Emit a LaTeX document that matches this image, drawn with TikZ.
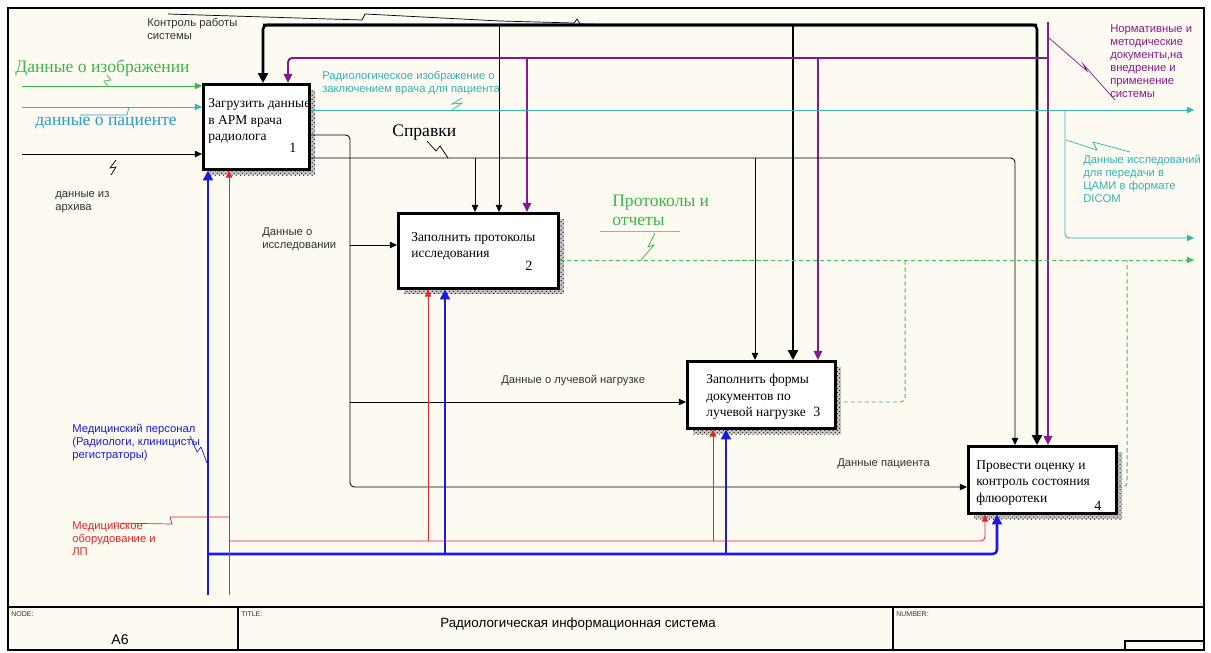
\documentclass[tikz,border=0pt]{standalone}
\usepackage{fontspec}
\setmainfont{Liberation Serif}
\setsansfont{Liberation Sans}
\usetikzlibrary{arrows.meta,patterns}
\definecolor{RIPaper}{HTML}{FCFAF1}
\definecolor{RIGreen}{HTML}{3DB54A}
\definecolor{RIDash}{HTML}{45C055}
\definecolor{RITeal}{HTML}{36B3B3}
\definecolor{RISky}{HTML}{2A9BD0}
\definecolor{RIPurple}{HTML}{86198F}
\definecolor{RIBlue}{HTML}{1A1AE6}
\definecolor{RIRed}{HTML}{E82424}
\definecolor{RIText}{HTML}{333333}

\begin{document}
\begin{tikzpicture}[x=0.025cm,y=-0.025cm,
  fbox/.style={draw,line width=1.8pt,fill=white,anchor=north west,inner sep=0pt},
  boxtext/.style={font=\fontsize{9.6}{11.6}\selectfont,align=left,anchor=west,inner sep=0pt},
  boxnum/.style={font=\fontsize{10}{12}\selectfont,inner sep=0pt},
  lbl/.style={font=\sffamily\fontsize{8}{9.3}\selectfont,align=left,anchor=north west,inner sep=0pt,text=RIText},
  biglbl/.style={font=\fontsize{12.5}{13.5}\selectfont,align=left,anchor=north west,inner sep=0pt},
  frametext/.style={font=\sffamily\fontsize{5}{6}\selectfont,anchor=north west,inner sep=0pt,text=RIText},
  shdbase/.style={fill=black!22},
  shd/.style={pattern=crosshatch dots,pattern color=black!85},
  wire/.style={line width=0.6pt},
  heavy/.style={line width=1.8pt},
  violetline/.style={line width=1.4pt,RIPurple},
  dashline/.style={line width=0.7pt,RIDash,dash pattern=on 3pt off 2pt},
  zz/.style={line width=0.5pt},
  flow/.style={-{Triangle[length=5pt,width=4.5pt]}},
  bigflow/.style={-{Triangle[length=7pt,width=7pt]}},
  midflow/.style={-{Triangle[length=6.5pt,width=6pt]}}]
\path[use as bounding box] (0,0) rectangle (1211,652);
\fill[white] (0,0) rectangle (1211,652);
\fill[RIPaper] (8,8) rectangle (1204,650);
\draw[line width=0.8pt] (8,8) rectangle (1204,650);
\draw[line width=0.8pt] (8,607) -- (1204,607);
\draw[line width=0.8pt] (238,607) -- (238,650);
\draw[line width=0.8pt] (893,607) -- (893,650);
\draw[line width=0.8pt] (1125,641) rectangle (1204,650);
\node[frametext] (fnode) at (11,611) {NODE:};
\node[font=\sffamily\fontsize{10}{12}\selectfont,inner sep=0pt] (fa6) at (120,640) {A6};
\node[frametext] (ftitle) at (241,611) {TITLE:};
\node[font=\sffamily\fontsize{9.5}{11}\selectfont,inner sep=0pt] (fname) at (578,624) {Радиологическая информационная система};
\node[frametext] (fnumber) at (896,611) {NUMBER:};
\fill[shdbase] (209,90) rectangle (315,175);
\fill[shdbase] (404,219) rectangle (564,294);
\fill[shdbase] (693,367) rectangle (841,434);
\fill[shdbase] (974,452) rectangle (1122,519);
\fill[shd] (209,90) rectangle (315,175);
\fill[shd] (404,219) rectangle (564,294);
\fill[shd] (693,367) rectangle (841,434);
\fill[shd] (974,452) rectangle (1122,519);
\node[fbox,minimum width=2.65cm,minimum height=2.125cm] (b1) at (202,83) {};
\node[fbox,minimum width=4.0cm,minimum height=1.875cm] (b2) at (397,212) {};
\node[fbox,minimum width=3.7cm,minimum height=1.675cm] (b3) at (686,360) {};
\node[fbox,minimum width=3.7cm,minimum height=1.675cm] (b4) at (967,445) {};
\node[boxtext] (b1t) at (208,121) {Загрузить данные\\в АРМ врача\\радиолога};
\node[boxnum] (b1n) at (293,148) {1};
\node[boxtext] (b2t) at (411,246) {Заполнить протоколы\\исследования};
\node[boxnum] (b2n) at (529,266) {2};
\node[boxtext] (b3t) at (706,397) {Заполнить формы\\документов по\\лучевой нагрузке};
\node[boxnum] (b3n) at (817,412) {3};
\node[boxtext] (b4t) at (976,483) {Провести оценку и\\контроль состояния\\флюоротеки};
\node[boxnum] (b4n) at (1098,506) {4};
\coordinate (iimg) at (22,86);
\coordinate (ipat) at (22,107);
\coordinate (iarch) at (22,154);
\draw[wire,flow,RIGreen] (iimg) -- (iimg -| b1.west);
\draw[wire,flow,RITeal] (ipat) -- (ipat -| b1.west);
\draw[wire,flow] (iarch) -- (iarch -| b1.west);
\coordinate (kA) at (263,25);
\coordinate (kB) at (1037,25);
\coordinate (kC) at (793,25);
\coordinate (kD) at (499,25);
\draw[heavy,bigflow,rounded corners=3pt] (kB) -- (kA) -- (kA |- b1.north);
\draw[heavy,bigflow,rounded corners=3pt] (kA) -- (kB) -- (kB |- b4.north);
\draw[heavy,bigflow] (kC) -- (kC |- b3.north);
\draw[wire,flow] (kD) -- (kD |- b2.north);
\draw[zz] (168,14) -- (362,20) -- (365,14) -- (500,21) -- (574,23) -- (577,19) -- (580,24) -- (620,25);
\coordinate (nA) at (1048,22);
\coordinate (nB) at (1048,58);
\coordinate (nC) at (288,58);
\coordinate (nD) at (527,58);
\coordinate (nE) at (818,58);
\draw[violetline,midflow] (nA) -- (nA |- b4.north);
\draw[violetline,midflow,rounded corners=3pt] (nB) -- (nC) -- (nC |- b1.north);
\draw[violetline,midflow] (nD) -- (nD |- b2.north);
\draw[violetline,midflow] (nE) -- (nE |- b3.north);
\draw[zz,RIPurple] (1049,38) -- (1087,71) -- (1083,64) -- (1115,100);
\coordinate (oR) at (1194,110);
\coordinate (oS) at (1065,110);
\coordinate (oT) at (1194,238);
\draw[wire,flow,RITeal] (oR -| b1.east) -- (oR);
\draw[wire,flow,RITeal,rounded corners=3pt] (oS) -- (oS |- oT) -- (oT);
\draw[zz,RITeal] (462,98) -- (452,104) -- (462,103) -- (452,110);
\draw[zz,RITeal] (1066,140) -- (1097,150) -- (1093,142) -- (1130,152);
\coordinate (dA) at (350,135);
\coordinate (dB) at (350,487);
\coordinate (dC) at (350,245);
\coordinate (dD) at (350,402);
\draw[wire,flow,rounded corners=3pt] (dA -| b1.east) -- (dA) -- (dB) -- (dB -| b4.west);
\draw[wire,flow] (dC) -- (dC -| b2.west);
\draw[wire,flow] (dD) -- (dD -| b3.west);
\coordinate (sA) at (1015,158);
\coordinate (sB) at (475,158);
\coordinate (sC) at (755,158);
\draw[wire,flow,rounded corners=3pt] (sA -| b1.east) -- (sA) -- (sA |- b4.north);
\draw[wire,flow] (sB) -- (sB |- b2.north);
\draw[wire,flow] (sC) -- (sC |- b3.north);
\draw[zz] (427,141) -- (436,151) -- (440,146) -- (448,158);
\coordinate (gA) at (1194,260);
\coordinate (gB) at (905,402);
\coordinate (gC) at (1127,487);
\draw[dashline,flow] (gA -| b2.east) -- (gA);
\draw[dashline,rounded corners=3pt] (gB -| b3.east) -- (gB) -- (gB |- gA);
\draw[dashline,rounded corners=3pt] (gC -| b4.east) -- (gC) -- (gC |- gA);
\draw[zz,RIGreen!70] (600,231) -- (680,231);
\draw[zz,RIGreen] (655,233) -- (648,247) -- (654,245) -- (641,260);
\coordinate (mA) at (208,595);
\coordinate (mB) at (208,554);
\coordinate (mC) at (997,554);
\coordinate (mD) at (445,554);
\coordinate (mE) at (726,554);
\draw[heavy,bigflow,RIBlue] (mA) -- (mA |- b1.south);
\draw[heavy,bigflow,RIBlue,rounded corners=3pt] (mB) -- (mC) -- (mC |- b4.south);
\draw[heavy,bigflow,RIBlue] (mD) -- (mD |- b2.south);
\draw[heavy,bigflow,RIBlue] (mE) -- (mE |- b3.south);
\draw[zz,RIBlue] (190,436) -- (197,452) -- (201,447) -- (207,463);
\coordinate (rA) at (229,595);
\coordinate (rB) at (229,541);
\coordinate (rC) at (985,541);
\coordinate (rD) at (428,541);
\coordinate (rE) at (713,541);
\draw[wire,flow,RIRed] (rA) -- (rA |- b1.south);
\draw[wire,flow,RIRed,rounded corners=3pt] (rB) -- (rC) -- (rC |- b4.south);
\draw[wire,flow,RIRed] (rD) -- (rD |- b2.south);
\draw[wire,flow,RIRed] (rE) -- (rE |- b3.south);
\draw[zz,RIRed] (113,523) -- (172,524) -- (170,517) -- (229,517);
\draw[zz,RIGreen] (107,75) -- (111,80) -- (104,81) -- (108,86);
\draw[zz,RISky] (80,115) -- (127,115) -- (129,107);
\draw[zz] (116,160) -- (110,168) -- (116,167) -- (111,175);
\node[lbl] (lctl) at (147,18) {Контроль работы\\системы};
\node[biglbl,text=RIGreen] (limg) at (15,60) {Данные о изображении};
\node[biglbl,text=RISky] (lpat) at (35,117) {данные о пациенте};
\node[lbl] (larch) at (55,191) {данные из\\архива};
\node[lbl,text=RITeal] (lrad) at (322,71) {Радиологическое изображение о\\заключением врача для пациента};
\node[lbl,text=RIPurple] (lnorm) at (1110,24) {Нормативные и\\методические\\документы,на\\внедрение и\\применение\\системы};
\node[lbl,text=RITeal] (ldicom) at (1083,155) {Данные исследований\\для передачи в\\ЦАМИ в формате\\DICOM};
\node[biglbl] (lspr) at (392,125) {Справки};
\node[biglbl,text=RIGreen] (lprot) at (612,195) {Протоколы и\\отчеты};
\node[lbl] (lissl) at (262,227) {Данные о\\исследовании};
\node[lbl] (lluch) at (501,375) {Данные о лучевой нагрузке};
\node[lbl] (lpac) at (837,458) {Данные пациента};
\node[lbl,text=RIBlue] (lstaff) at (72,424) {Медицинский персонал\\(Радиологи, клиницисты\\регистраторы)};
\node[lbl,text=RIRed] (lequip) at (72,521) {Медицинское\\оборудование и\\ЛП};
\end{tikzpicture}
\end{document}
